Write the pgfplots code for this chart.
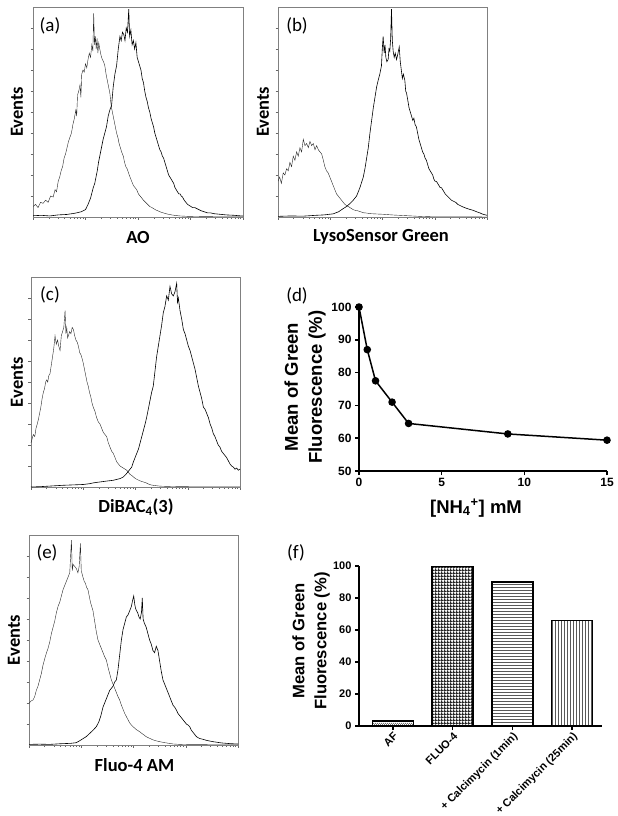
\documentclass[border=0pt]{standalone}
\usepackage{fontspec}
\setmainfont{Carlito}
\newfontfamily\arial{Liberation Sans}
\usepackage{pgfplots}
\pgfplotsset{compat=1.18}
\usetikzlibrary{patterns}
\pgfdeclarepatternformonly{finegrid}{\pgfpointorigin}{\pgfqpoint{3.2pt}{3.2pt}}{\pgfqpoint{3.2pt}{3.2pt}}{%
  \pgfpathrectangle{\pgfpointorigin}{\pgfqpoint{3.2pt}{1.5pt}}%
  \pgfpathrectangle{\pgfpointorigin}{\pgfqpoint{1.5pt}{3.2pt}}%
  \pgfusepath{fill}}
\pgfdeclarepatternformonly{finedots}{\pgfpointorigin}{\pgfqpoint{2.4pt}{2.4pt}}{\pgfqpoint{2.4pt}{2.4pt}}{%
  \pgfpathrectangle{\pgfpointorigin}{\pgfqpoint{1.1pt}{1.1pt}}%
  \pgfpathrectangle{\pgfqpoint{1.2pt}{1.2pt}}{\pgfqpoint{1.1pt}{1.1pt}}%
  \pgfusepath{fill}}
\pgfplotsset{
  hist/.style={scale only axis, width=209pt, height=210pt,
    xmin=0, xmax=1000, ymin=0, ymax=100,
    xtick={0,250,500,750,1000},
    minor xtick={75,119,151,175,195,211,226,239,325,369,401,425,445,461,476,489,575,619,651,675,695,711,726,739,825,869,901,925,945,961,976,989},
    ytick={10,20,...,90}, xticklabels={}, yticklabels={},
    xtick pos=bottom, ytick pos=left,
    tick align=outside, major tick length=2.5pt, minor tick length=1.6pt,
    every tick/.style={black!60, line width=0.5pt},
    axis line style={black!50, line width=0.7pt},
    cycle list={{black!85, line width=0.6pt, no marks}}},
  prism/.style={scale only axis, axis lines=left,
    axis line style={-, line width=1.5pt},
    every tick/.style={black, line width=1.5pt},
    tick align=outside, major tick length=4pt,
    /pgf/number format/assume math mode=true,
    ticklabel style={font=\arial\bfseries\fontsize{12}{14}\selectfont}}
}
\begin{document}
\begin{tikzpicture}
\useasboundingbox (0,0) rectangle (618pt,-816pt);
% (a)
\begin{axis}[hist, at={(33pt,-7pt)}, anchor=north west, width=210pt]
\addplot table[row sep=\\]{
0 5\\ 12 6\\ 24 4.5\\ 36 7\\ 48 6.5\\ 60 8\\ 72 7\\ 84 10\\ 96 9.5\\ 105 13\\ 112 12\\ 120 17\\ 127 19\\ 134 22\\ 141 24\\ 148 28\\ 155 30\\ 162 33\\ 169 36\\ 176 38\\ 183 40\\ 190 44\\ 197 47\\ 204 51\\ 208 48\\ 212 58\\ 218 60\\ 224 63\\ 228 57\\ 232 68\\ 238 70\\ 244 69\\ 250 73\\ 256 71\\ 262 75\\ 268 78\\ 274 76\\ 280 82\\ 285 79\\ 289 97\\ 293 82\\ 297 86\\ 301 80\\ 305 85\\ 309 78\\ 313 83\\ 318 80\\ 324 77\\ 330 75\\ 336 74\\ 342 72\\ 348 68\\ 354 65\\ 360 62\\ 366 59\\ 370 55\\ 374 52\\ 380 49\\ 386 46\\ 392 43\\ 398 40\\ 404 38\\ 410 35\\ 416 33\\ 422 31\\ 430 29\\ 436 26\\ 442 24\\ 448 23\\ 455 21\\ 462 19\\ 470 17\\ 478 15\\ 486 14\\ 494 13\\ 502 11\\ 510 10\\ 518 9\\ 526 8\\ 536 7\\ 546 6\\ 556 5\\ 566 4.5\\ 574 4\\ 586 3.3\\ 598 2.8\\ 612 2.2\\ 626 1.8\\ 640 1.4\\ 660 1\\ 680 0.7\\ 700 0.5\\ 740 0.3\\ 800 0.2\\ 900 0.1\\ 1000 0.1\\
};
\addplot table[row sep=\\]{
0 0.6\\ 40 0.8\\ 80 0.5\\ 120 1\\ 160 1.2\\ 200 1.8\\ 230 2.5\\ 250 3.5\\ 262 6\\ 274 9\\ 287 14\\ 294 16\\ 300 19\\ 306 22\\ 312 26\\ 318 29\\ 326 33\\ 334 37\\ 342 40\\ 350 43\\ 358 48\\ 366 51\\ 374 53\\ 382 62\\ 390 68\\ 398 72\\ 406 80\\ 414 86\\ 420 84\\ 426 88\\ 432 87\\ 438 84\\ 444 90\\ 450 88\\ 456 99\\ 460 86\\ 466 89\\ 472 82\\ 478 84\\ 484 80\\ 490 83\\ 496 76\\ 502 74\\ 508 72\\ 514 70\\ 520 66\\ 526 64\\ 532 60\\ 538 57\\ 544 55\\ 550 52\\ 556 50\\ 562 47\\ 568 45\\ 574 43\\ 580 40\\ 586 38\\ 592 36\\ 598 34\\ 604 32\\ 610 31\\ 616 29\\ 622 28\\ 628 26\\ 634 24\\ 640 22\\ 646 20\\ 652 19\\ 658 18\\ 664 17\\ 670 16\\ 676 14\\ 682 13\\ 688 12\\ 694 11\\ 700 11\\ 706 10\\ 712 9.5\\ 720 8\\ 728 7\\ 736 6\\ 744 5.5\\ 752 5\\ 760 4.5\\ 770 4.5\\ 780 4\\ 790 3.5\\ 800 3\\ 815 2.5\\ 830 2\\ 845 2\\ 860 1.6\\ 880 1.4\\ 900 1.2\\ 920 1\\ 940 0.9\\ 960 0.8\\ 980 0.6\\ 1000 0.5\\
};
\end{axis}
% (b)
\begin{axis}[hist, at={(278pt,-7pt)}, anchor=north west]
\addplot table[row sep=\\]{
0 17\\ 8 19\\ 16 16\\ 25 21\\ 33 20\\ 41 23\\ 49 22\\ 57 26\\ 65 24\\ 73 29\\ 81 27\\ 89 31\\ 97 29\\ 105 33\\ 113 31\\ 121 37\\ 129 34\\ 137 35\\ 145 33\\ 153 36\\ 161 34\\ 169 35\\ 177 32\\ 185 34\\ 193 32\\ 201 31\\ 209 30\\ 217 27\\ 224 24\\ 232 22\\ 240 21\\ 248 19\\ 256 17\\ 264 15\\ 272 13\\ 280 11\\ 288 10\\ 296 9\\ 304 8\\ 312 7\\ 320 6\\ 328 5.5\\ 336 5\\ 344 4.5\\ 352 4\\ 360 3.5\\ 368 3.2\\ 380 3\\ 395 2.5\\ 410 2\\ 423 1.9\\ 440 1.6\\ 460 1.5\\ 480 1.4\\ 503 1.3\\ 530 1.1\\ 560 0.9\\ 583 0.8\\ 620 0.6\\ 678 0.3\\ 742 0.1\\ 800 0.1\\ 900 0.1\\ 1000 0\\
};
\addplot table[row sep=\\]{
0 0.3\\ 60 0.5\\ 120 0.4\\ 180 0.8\\ 220 1\\ 264 1.5\\ 290 2.5\\ 312 4\\ 328 5\\ 344 6.4\\ 360 8\\ 376 10\\ 392 14\\ 408 19\\ 416 23\\ 424 28\\ 432 33\\ 440 40\\ 448 46\\ 456 52\\ 464 57\\ 472 62\\ 479 65\\ 487 68\\ 495 72\\ 499 80\\ 503 86\\ 508 78\\ 512 82\\ 516 76\\ 521 74\\ 527 75\\ 531 80\\ 535 79\\ 539 85\\ 543 99\\ 547 84\\ 551 79\\ 556 76\\ 561 78\\ 567 75\\ 572 77\\ 576 79\\ 580 81\\ 585 74\\ 590 70\\ 595 66\\ 600 68\\ 607 65\\ 611 60\\ 615 59\\ 622 55\\ 627 52\\ 633 50\\ 639 48\\ 645 46\\ 650 47\\ 656 44\\ 662 43\\ 668 40\\ 674 37\\ 680 35\\ 686 33\\ 692 31\\ 698 30\\ 704 28\\ 710 27\\ 716 25\\ 722 23\\ 728 22\\ 734 21\\ 740 20\\ 746 18\\ 752 17\\ 758 17\\ 764 16\\ 770 15\\ 776 14\\ 782 14\\ 788 13\\ 794 12\\ 800 11\\ 810 10\\ 820 9\\ 830 8\\ 840 7.5\\ 850 7\\ 860 6\\ 870 5.5\\ 885 4.8\\ 900 4.2\\ 915 3.7\\ 933 3.2\\ 950 2.5\\ 965 2\\ 973 1.6\\ 985 1.2\\ 1000 0.8\\
};
\end{axis}
% (c)
\begin{axis}[hist, at={(31pt,-277pt)}, anchor=north west]
\addplot table[row sep=\\]{
0 21\\ 11 25\\ 18 24\\ 24 28\\ 30 30\\ 35 32\\ 41 35\\ 47 38\\ 53 42\\ 59 45\\ 65 47\\ 70 50\\ 75 51\\ 80 50\\ 85 53\\ 91 54\\ 97 58\\ 103 62\\ 109 66\\ 115 72\\ 121 68\\ 127 70\\ 133 67\\ 139 65\\ 145 72\\ 151 74\\ 157 76\\ 163 84\\ 167 73\\ 171 76\\ 175 71\\ 179 72\\ 185 74\\ 191 73\\ 197 76\\ 203 75\\ 209 72\\ 215 70\\ 221 69\\ 227 67\\ 233 64\\ 239 63\\ 245 61\\ 250 59\\ 256 56\\ 262 53\\ 268 50\\ 274 48\\ 280 45\\ 286 43\\ 292 40\\ 298 38\\ 306 36\\ 314 33\\ 322 31\\ 330 30\\ 338 28\\ 346 26\\ 354 25\\ 362 24\\ 370 21\\ 378 19\\ 386 17\\ 394 16\\ 402 14\\ 410 12\\ 418 11\\ 426 10\\ 434 9.5\\ 442 9\\ 450 8.5\\ 458 8\\ 466 7\\ 474 6\\ 482 5.5\\ 490 4.8\\ 500 4\\ 510 3.5\\ 520 3\\ 530 2.6\\ 538 2.4\\ 550 2\\ 562 1.4\\ 574 1\\ 585 0.8\\ 600 0.6\\ 620 0.4\\ 649 0.3\\ 700 0.2\\ 800 0.1\\ 900 0.1\\ 1000 0.1\\
};
\addplot table[row sep=\\]{
0 0\\ 50 0.2\\ 100 0.5\\ 150 0.8\\ 200 1\\ 250 1.2\\ 282 1.6\\ 300 2\\ 330 2.4\\ 360 2.8\\ 394 3.2\\ 410 3.6\\ 426 4\\ 442 4.8\\ 454 6\\ 466 7.5\\ 474 8.5\\ 482 9.5\\ 490 12\\ 498 14\\ 506 16\\ 514 18\\ 522 21\\ 530 24\\ 538 27\\ 546 30\\ 553 33\\ 561 37\\ 569 41\\ 577 45\\ 585 48\\ 593 55\\ 601 62\\ 609 67\\ 617 72\\ 625 77\\ 633 83\\ 641 86\\ 649 91\\ 657 89\\ 665 95.5\\ 673 92\\ 681 91\\ 689 93\\ 697 97\\ 701 88\\ 705 90\\ 713 84\\ 721 80\\ 729 75\\ 737 73\\ 745 70\\ 753 67\\ 761 65\\ 769 62\\ 777 59\\ 785 56\\ 793 52\\ 801 48\\ 809 45\\ 817 42\\ 825 38\\ 833 37\\ 841 35\\ 849 33\\ 857 30\\ 865 28\\ 872 25.5\\ 880 24\\ 888 22\\ 896 20\\ 904 19\\ 912 17\\ 920 16\\ 928 15\\ 936 14\\ 944 12.5\\ 952 11\\ 960 10\\ 968 9.5\\ 976 8.5\\ 984 9\\ 992 8\\ 1000 8.5\\
};
\end{axis}
% (e)
\begin{axis}[hist, at={(29pt,-535pt)}, anchor=north west]
\addplot table[row sep=\\]{
0 19.8\\ 10 21\\ 19 21.4\\ 27 23\\ 35 26\\ 43 28\\ 51 31\\ 59 34\\ 67 38\\ 75 41\\ 83 43.7\\ 91 46\\ 99 49\\ 107 53\\ 115 56\\ 123 59\\ 131 63\\ 139 66\\ 147 68\\ 155 71\\ 163 74\\ 171 76\\ 179 78\\ 187 80\\ 195 82\\ 203 97.6\\ 207 83\\ 211 86\\ 219 85\\ 227 84\\ 234 82\\ 240 85\\ 246 96\\ 250 83\\ 258 80\\ 264 78\\ 270 77\\ 276 75\\ 282 74\\ 288 71\\ 294 68\\ 300 66\\ 306 64\\ 314 59\\ 322 54\\ 330 50\\ 338 48\\ 346 46\\ 354 44\\ 362 42\\ 370 40.5\\ 378 37\\ 386 34\\ 394 31\\ 402 29\\ 410 27\\ 418 25\\ 426 23\\ 434 21.4\\ 442 19\\ 450 17\\ 458 15\\ 466 13.5\\ 474 12\\ 482 10.5\\ 490 9.5\\ 498 8.7\\ 506 8\\ 514 7.3\\ 522 6.8\\ 530 6.3\\ 540 5.5\\ 550 4.8\\ 560 4\\ 570 3.5\\ 577 3.2\\ 590 2.6\\ 600 2.2\\ 612 1.9\\ 625 1.6\\ 650 1.1\\ 670 0.8\\ 689 0.5\\ 720 0.3\\ 760 0.2\\ 800 0.2\\ 900 0.1\\ 1000 0.1\\
};
\addplot table[row sep=\\]{
0 0.3\\ 50 0.4\\ 100 0.3\\ 150 0.6\\ 200 0.8\\ 226 1.1\\ 242 2\\ 258 3\\ 274 4\\ 290 5.5\\ 306 7\\ 322 8.7\\ 334 11\\ 344 14\\ 354 18\\ 362 20\\ 370 22\\ 378 24\\ 386 26\\ 394 27\\ 402 28\\ 410 30\\ 418 31\\ 426 36\\ 434 43\\ 442 50\\ 450 55\\ 458 58\\ 466 61\\ 474 62\\ 482 64\\ 490 66\\ 496 69\\ 501 71\\ 506 67\\ 510 65\\ 514 64\\ 520 63\\ 526 61\\ 532 60\\ 538 63\\ 542 70\\ 546 60\\ 552 58\\ 561 56\\ 569 53\\ 577 50\\ 585 48\\ 593 45\\ 601 44\\ 609 47\\ 617 45\\ 625 40\\ 633 35\\ 641 31\\ 649 29\\ 657 27\\ 665 25\\ 673 23\\ 681 21\\ 689 19\\ 697 18\\ 705 16.7\\ 713 15\\ 721 14\\ 729 13\\ 737 12\\ 745 11\\ 753 10\\ 761 9.5\\ 769 8.7\\ 777 7\\ 785 6\\ 793 5\\ 801 4\\ 809 3.5\\ 817 3.1\\ 833 2.7\\ 850 2.2\\ 865 1.9\\ 880 1.6\\ 900 1.3\\ 920 1\\ 944 0.8\\ 970 0.6\\ 1000 0.5\\
};
\end{axis}
% (d)
\begin{axis}[prism, at={(359pt,-471pt)}, anchor=south west, width=248pt, height=164pt,
  xmin=0, xmax=15, ymin=50, ymax=100, xtick={0,5,10,15}, ytick={50,60,...,100}, clip=false]
\addplot[black, line width=1.5pt, mark=*, mark size=3pt] coordinates {(0,100) (0.5,87) (1,77.5) (2,71) (3,64.5) (9,61.3) (15,59.4)};
\end{axis}
% (f)
\begin{axis}[prism, at={(359pt,-726pt)}, anchor=south west, width=243pt, height=160pt,
  xmin=-0.57, xmax=3.5, ymin=0, ymax=100, ytick={0,20,...,100}, xtick={0,1,2,3},
  xticklabels={AF, FLUO-4, + Calcimycin (1min), + Calcimycin (25min)},
  ticklabel style={font=\arial\bfseries\fontsize{11}{12}\selectfont},
  x tick label style={rotate=45, anchor=north east, inner sep=1pt, font=\arial\bfseries\fontsize{11}{12}\selectfont}]
\addplot[ybar, bar shift=0pt, bar width=41pt, draw=black, line width=1.5pt, pattern=finedots, pattern color=black!55] coordinates {(0,3)};
\addplot[ybar, bar shift=0pt, bar width=41pt, draw=black, line width=1.5pt, pattern=finegrid, pattern color=black!85] coordinates {(1,100)};
\addplot[ybar, bar shift=0pt, bar width=41pt, draw=black, line width=1.5pt, pattern=horizontal lines, pattern color=black!65] coordinates {(2,90)};
\addplot[ybar, bar shift=0pt, bar width=41pt, draw=black, line width=1.5pt, pattern=vertical lines, pattern color=black!65] coordinates {(3,66)};
\end{axis}
% labels
\begin{scope}[every node/.style={font=\fontsize{19}{22}\selectfont, inner sep=0pt}]
\node at (50pt,-26pt) {(a)};
\node at (297pt,-26pt) {(b)};
\node at (50pt,-295pt) {(c)};
\node at (297pt,-296pt) {(d)};
\node at (47pt,-553pt) {(e)};
\node at (296pt,-553pt) {(f)};
\end{scope}
\begin{scope}[every node/.style={font=\bfseries\fontsize{18.5}{22}\selectfont, inner sep=0pt}]
\node[rotate=90] at (17pt,-112pt) {Events};
\node[rotate=90] at (263pt,-112pt) {Events};
\node[rotate=90] at (17pt,-382pt) {Events};
\node[rotate=90] at (14pt,-640pt) {Events};
\node at (138pt,-237pt) {AO};
\node at (381pt,-237pt) {LysoSensor Green};
\node at (136pt,-507pt) {DiBAC\textsubscript{4}(3)};
\node at (134.5pt,-765pt) {Fluo-4 AM};
\end{scope}
\node[rotate=90, align=center, inner sep=0pt, font=\arial\bfseries\fontsize{18.5}{24}\selectfont] at (305pt,-387pt) {Mean of Green\\Fluorescence (\%)};
\node[inner sep=0pt, font=\arial\bfseries\fontsize{18.5}{22}\selectfont] at (476pt,-508pt) {[NH\textsubscript{4}\textsuperscript{+}] mM};
\node[rotate=90, align=center, inner sep=0pt, font=\arial\bfseries\fontsize{16.6}{22}\selectfont] at (311pt,-641pt) {Mean of Green\\Fluorescence (\%)};
\end{tikzpicture}
\end{document}
